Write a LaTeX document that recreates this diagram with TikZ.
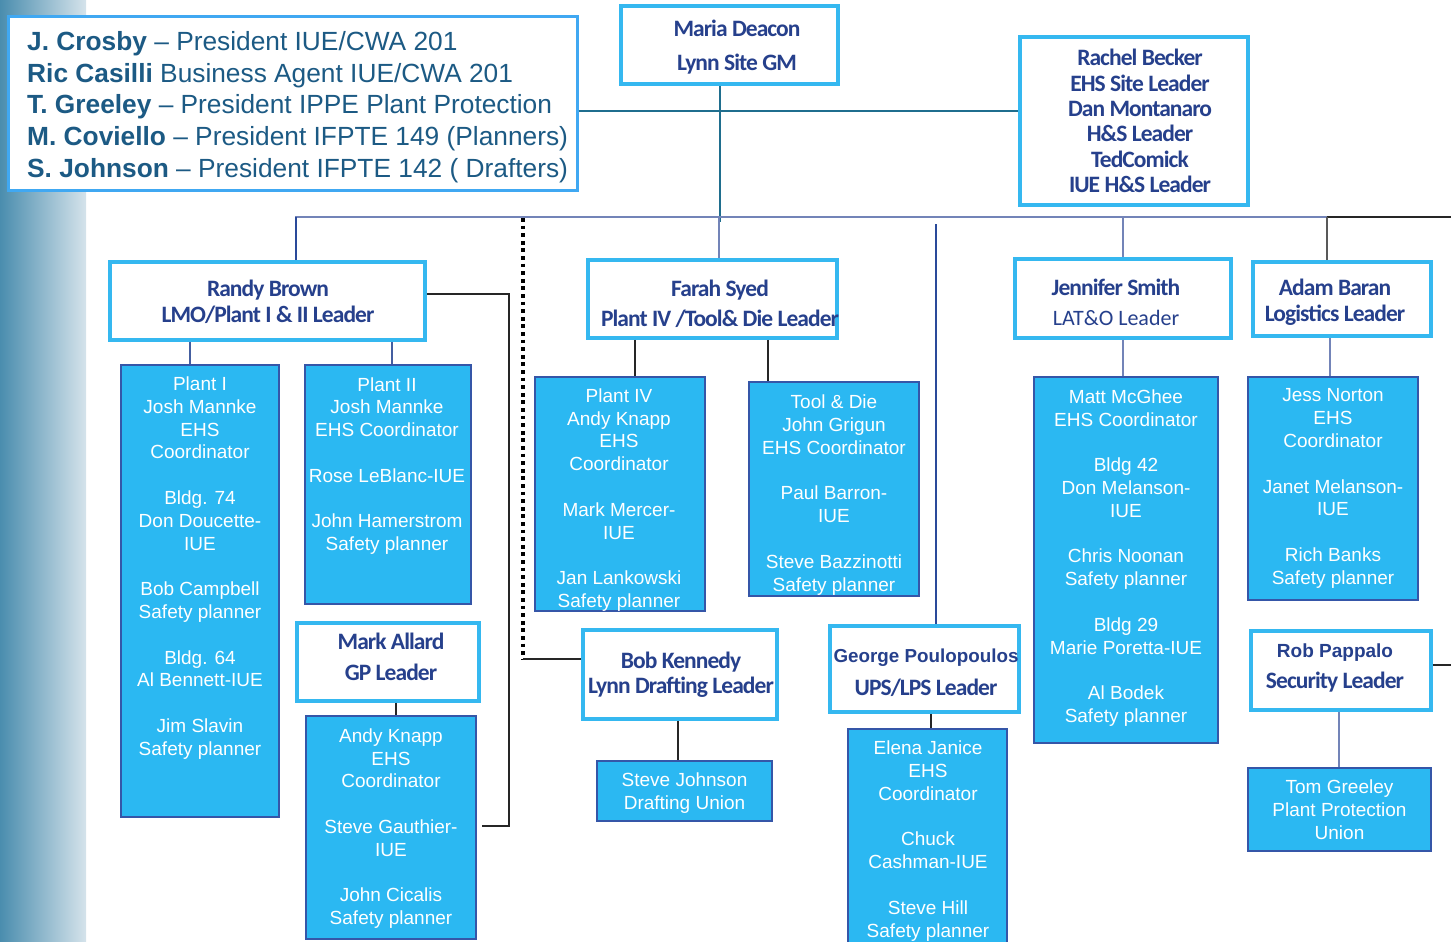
\documentclass[tikz,border=0pt]{standalone}
\usepackage{fontspec}
\setmainfont{Liberation Sans}
\newfontfamily\leadfont[LetterSpace=-4]{Carlito}
\newfontfamily\leadreg{Carlito}
\definecolor{lblue}{HTML}{35B8F0}
\definecolor{ublue}{HTML}{40A8F2}
\definecolor{fblue}{HTML}{2BB8F2}
\definecolor{fborder}{HTML}{3556A8}
\definecolor{navy}{HTML}{26408C}
\definecolor{unitext}{HTML}{1C5A84}
\definecolor{tealc}{HTML}{1F6E8E}
\definecolor{busc}{HTML}{7384B8}
\definecolor{navyline}{HTML}{2A4A9A}
\definecolor{gl}{HTML}{4A8DAE}
\definecolor{gr}{HTML}{D5E3EB}
\tikzset{
  lbox/.style={draw=lblue, line width=3.5pt, fill=white, inner sep=0pt},
  fbox/.style={draw=fborder, line width=1.3pt, fill=fblue, inner sep=0pt},
  ftext/.style={text=white, font=\fontsize{19}{22.8}\selectfont, align=center, inner sep=0pt},
  ltext/.style={text=navy, align=center, inner sep=0pt},
  tealline/.style={draw=tealc, line width=2pt},
  busline/.style={draw=busc, line width=1.5pt},
  navyln/.style={draw=navyline, line width=1.3pt},
  grayln/.style={draw=busc, line width=1.5pt},
  blkln/.style={draw=black!85, line width=1.5pt},
  dotln/.style={draw=black, line width=4pt, dash pattern=on 3.8pt off 3.8pt},
}
\begin{document}
\begin{tikzpicture}[x=1pt,y=-1pt]
\useasboundingbox (0,0) rectangle (1451,942);
\shade[left color=gl, right color=gr] (0,0) rectangle (86,942);

% coordinates for connector taps
\coordinate (hy) at (0,111);
\coordinate (mx) at (720,222);
\coordinate (busL) at (295,217);
\coordinate (busM) at (1327,217);
\coordinate (busR) at (1451,217);
\coordinate (tR) at (296,217);
\coordinate (tF) at (719,217);
\coordinate (tG) at (936,224);
\coordinate (tJ) at (1123,217);
\coordinate (tA) at (1327,217);
\coordinate (dt) at (523,218);
\coordinate (dc) at (523,659);
\coordinate (rs) at (509,294);
\coordinate (rs2) at (509,826);
\coordinate (c1) at (190,0);
\coordinate (c2) at (392,0);
\coordinate (c4) at (635,0);
\coordinate (c5) at (768,0);
\coordinate (cg) at (396,0);
\coordinate (cb) at (678,0);
\coordinate (ce) at (931,0);
\coordinate (cm) at (1123,0);
\coordinate (cj) at (1330,0);
\coordinate (ct) at (1339,0);
\coordinate (ry) at (1451,665);

% boxes
\node[lbox, minimum width=569pt, minimum height=173pt, draw=ublue, line width=3pt] (union) at (292.5,103.5) {};
\node[lbox, minimum width=217pt, minimum height=78pt] (maria) at (729.5,45) {};
\node[lbox, minimum width=228pt, minimum height=168pt] (rachel) at (1134,121) {};
\node[lbox, minimum width=315pt, minimum height=78pt] (randy) at (267.5,301) {};
\node[lbox, minimum width=249pt, minimum height=78pt] (farah) at (712.5,299) {};
\node[lbox, minimum width=216pt, minimum height=79pt] (jenn) at (1123,298.5) {};
\node[lbox, minimum width=178pt, minimum height=74pt] (adam) at (1342,299) {};
\node[lbox, minimum width=182pt, minimum height=78pt] (mark) at (388,662) {};
\node[lbox, minimum width=194pt, minimum height=89pt] (bob) at (680,674.5) {};
\node[lbox, minimum width=189pt, minimum height=86pt] (george) at (924.5,669) {};
\node[lbox, minimum width=180pt, minimum height=79pt] (rob) at (1341,670.5) {};

\node[fbox, minimum width=158pt, minimum height=452pt] (p1) at (200,591) {};
\node[fbox, minimum width=166pt, minimum height=239pt] (p2) at (388,484.5) {};
\node[fbox, minimum width=170pt, minimum height=223pt] (gp) at (391,827.5) {};
\node[fbox, minimum width=170pt, minimum height=234pt] (p4) at (620,494) {};
\node[fbox, minimum width=170pt, minimum height=214pt] (td) at (834,489) {};
\node[fbox, minimum width=175pt, minimum height=60pt] (sj) at (684.5,791) {};
\node[fbox, minimum width=159pt, minimum height=217pt] (el) at (927.5,837.5) {};
\node[fbox, minimum width=184pt, minimum height=366pt] (mm) at (1126,560) {};
\node[fbox, minimum width=170pt, minimum height=223pt] (jn) at (1333,488.5) {};
\node[fbox, minimum width=183pt, minimum height=83pt] (tg) at (1339.5,809.5) {};

% connectors
\draw[tealline] (union.east |- hy) -- (rachel.west |- hy);
\draw[tealline] (maria.south -| mx) -- (mx);
\draw[busline] (busL) -- (busM);
\draw[blkln] (busM) -- (busR);
\draw[navyln] (tR) -- (tR |- randy.north);
\draw[grayln] (tF) -- (tF |- farah.north);
\draw[navyln] (tG) -- (tG |- george.north);
\draw[grayln] (tJ) -- (tJ |- jenn.north);
\draw[draw=black!65, line width=2pt] (tA) -- (tA |- adam.north);
\draw[dotln] (dt) -- (dc);
\draw[blkln] (dc) -- (dc -| bob.west);
\draw[blkln] (randy.east |- rs) -- (rs) -- (rs2) -- ([xshift=5pt]gp.east |- rs2);
\draw[navyln, draw=fborder!80!gray] (c1 |- randy.south) -- (c1 |- p1.north);
\draw[navyln, draw=fborder!80!gray] (c2 |- randy.south) -- (c2 |- p2.north);
\draw[blkln] (c4 |- farah.south) -- (c4 |- p4.north);
\draw[blkln] (c5 |- farah.south) -- (c5 |- td.north);
\draw[blkln] (cg |- mark.south) -- (cg |- gp.north);
\draw[blkln] (cb |- bob.south) -- (cb |- sj.north);
\draw[blkln] (ce |- george.south) -- (ce |- el.north);
\draw[grayln] (cm |- jenn.south) -- (cm |- mm.north);
\draw[grayln] (cj |- adam.south) -- (cj |- jn.north);
\draw[grayln] (ct |- rob.south) -- (ct |- tg.north);
\draw[blkln] (rob.east |- ry) -- (ry);

% union text
\node[text=unitext, align=left, inner sep=0pt, anchor=west, font=\fontsize{26.3}{31.75}\selectfont] (uniontxt) at (27,107)
 {\textbf{J. Crosby} – President IUE/CWA 201\\
  \textbf{Ric Casilli} Business Agent IUE/CWA 201\\
  \textbf{T. Greeley} – President IPPE Plant Protection\\
  \textbf{M. Coviello} – President IFPTE 149 (Planners)\\
  \textbf{S. Johnson} – President IFPTE 142 ( Drafters)};

% leader texts
\node[ltext, font=\leadfont\bfseries\fontsize{23.5}{34}\selectfont] (mariat) at (737,47) {Maria Deacon\\Lynn Site GM};
\node[ltext, font=\leadfont\bfseries\fontsize{23.5}{25.4}\selectfont] (rachelt) at (1140,121) {Rachel Becker\\EHS Site Leader\\Dan Montanaro\\H\&S Leader\\TedComick\\IUE H\&S Leader};
\node[ltext, font=\leadfont\bfseries\fontsize{23.5}{26}\selectfont] (randyt) at (268,302) {Randy Brown\\LMO/Plant I \& II Leader};
\node[ltext, font=\leadfont\bfseries\fontsize{23.5}{30}\selectfont] (faraht) at (720,304) {Farah Syed\\Plant IV /Tool\& Die Leader};
\node[ltext, font=\leadfont\bfseries\fontsize{23.5}{31}\selectfont] (markt) at (391,656.5) {Mark Allard\\GP Leader};
\node[ltext, font=\leadfont\bfseries\fontsize{23.5}{25}\selectfont] (bobt) at (681,674.5) {Bob Kennedy\\Lynn Drafting Leader};
\node[ltext, font=\leadfont\bfseries\fontsize{23.5}{33}\selectfont] (georget) at (926,672.5) {{\rmfamily\fontsize{18.8}{33}\selectfont George Poulopoulos}\\UPS/LPS Leader};
\node[ltext, font=\leadfont\bfseries\fontsize{23.5}{30}\selectfont] (jennt) at (1116,302) {Jennifer Smith\\{\leadreg\mdseries\fontsize{22}{30}\selectfont LAT\&O Leader}};
\node[ltext, font=\leadfont\bfseries\fontsize{23.5}{26}\selectfont] (adamt) at (1335,302) {Adam Baran\\Logistics Leader};
\node[ltext, font=\leadfont\bfseries\fontsize{23.5}{31}\selectfont] (robt) at (1335,667.5) {{\rmfamily\fontsize{19}{31}\selectfont Rob Pappalo}\\Security Leader};

% filled texts
\node[ftext] (p1t) at (200,568) {Plant I\\Josh Mannke\\EHS\\Coordinator\\[22.8pt]Bldg. 74\\Don Doucette-\\IUE\\[22.8pt]Bob Campbell\\Safety planner\\[22.8pt]Bldg. 64\\Al Bennett-IUE\\[22.8pt]Jim Slavin\\Safety planner};
\node[ftext] (p2t) at (387,466) {Plant II\\Josh Mannke\\EHS Coordinator\\[22.8pt]Rose LeBlanc-IUE\\[22.8pt]John Hamerstrom\\Safety planner};
\node[ftext] (gpt) at (391,828.5) {Andy Knapp\\EHS\\Coordinator\\[22.8pt]Steve Gauthier-\\IUE\\[22.8pt]John Cicalis\\Safety planner};
\node[ftext] (p4t) at (619,500) {Plant IV\\Andy Knapp\\EHS\\Coordinator\\[22.8pt]Mark Mercer-\\IUE\\[22.8pt]Jan Lankowski\\Safety planner};
\node[ftext] (tdt) at (834,495) {Tool \& Die\\John Grigun\\EHS Coordinator\\[22.8pt]Paul Barron-\\IUE\\[22.8pt]Steve Bazzinotti\\Safety planner};
\node[ftext] (sjt) at (684.5,793) {Steve Johnson\\Drafting Union};
\node[ftext] (elt) at (928,841) {Elena Janice\\EHS\\Coordinator\\[22.8pt]Chuck\\Cashman-IUE\\[22.8pt]Steve Hill\\Safety planner};
\node[ftext] (mmt) at (1126,558) {Matt McGhee\\EHS Coordinator\\[22.8pt]Bldg 42\\Don Melanson-\\IUE\\[22.8pt]Chris Noonan\\Safety planner\\[22.8pt]Bldg 29\\Marie Poretta-IUE\\[22.8pt]Al Bodek\\Safety planner};
\node[ftext] (jnt) at (1333,488.5) {Jess Norton\\EHS\\Coordinator\\[22.8pt]Janet Melanson-\\IUE\\[22.8pt]Rich Banks\\Safety planner};
\node[ftext] (tgt) at (1339.5,809.5) {Tom Greeley\\Plant Protection\\Union};
\end{tikzpicture}
\end{document}
